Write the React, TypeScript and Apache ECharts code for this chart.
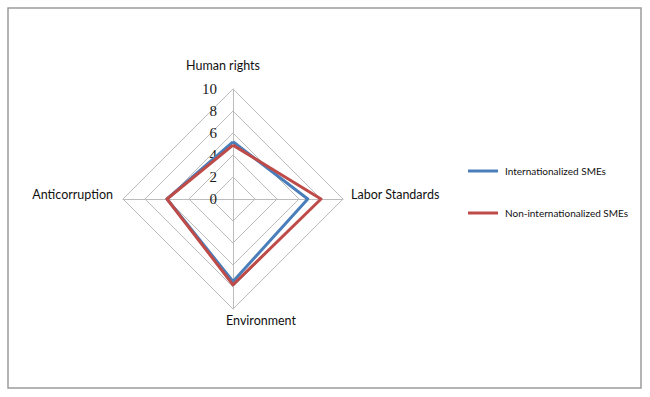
import React, { useEffect, useRef } from "react";
import * as echarts from "echarts";

// Indicators in ECharts order (counter-clockwise from top)
const indicatorNames = ["Human rights", "Anticorruption", "Environment", "Labor Standards"];
const indicatorMax = 10;
const internationalized = [5.2, 6.0, 7.5, 6.8];
const nonInternationalized = [4.9, 6.0, 7.8, 8.0];
const seriesNames = ["Internationalized SMEs", "Non-internationalized SMEs"];

const richKeys: Record<string, string> = {
  "Human rights": "hr",
  "Anticorruption": "ac",
  "Environment": "env",
  "Labor Standards": "ls",
};

export default function App() {
  const ref = useRef<HTMLDivElement>(null);
  useEffect(() => {
    if (!ref.current) return;
    const chart = echarts.init(ref.current, null, { renderer: "svg" });
    const font = "Lato, 'Liberation Sans', sans-serif";
    const nameStyle = { fontFamily: font, fontSize: 12.5, color: "#111111" };
    chart.setOption({
      animation: false,
      backgroundColor: "#ffffff",
      graphic: [
        {
          type: "rect",
          shape: { x: 8, y: 8, width: 633, height: 380 },
          style: { fill: "none", stroke: "#9c9c9c", lineWidth: 1.5 },
          silent: true,
        },
      ],
      legend: {
        orient: "vertical",
        left: 463,
        top: 161,
        itemGap: 32,
        itemWidth: 30,
        itemHeight: 3,
        icon: "rect",
        data: seriesNames,
        textStyle: { fontFamily: font, fontSize: 10, color: "#111111", padding: [0, 0, 0, 2] },
      },
      radar: {
        center: [233, 199],
        radius: 110,
        startAngle: 90,
        shape: "polygon",
        splitNumber: 5,
        nameGap: 5,
        indicator: indicatorNames.map((n, i) =>
          i === 0 ? { name: n, min: 0, max: indicatorMax } : { name: n, min: 0, max: indicatorMax, axisLabel: { show: false } }
        ),
        axisName: {
          ...nameStyle,
          formatter: (name: string) => `{${richKeys[name]}|${name}}`,
          rich: {
            hr: { ...nameStyle, padding: [0, 20, 12, 0] },
            ac: { ...nameStyle, padding: [0, 5, 10, 0] },
            env: { ...nameStyle, padding: [0, 0, 0, 56] },
            ls: { ...nameStyle, padding: [0, 0, 10, 3] },
          },
        },
        axisLine: { show: true, lineStyle: { color: "#bcbcbc", width: 1 } },
        splitLine: { show: true, lineStyle: { color: "#bcbcbc", width: 1 } },
        splitArea: { show: false },
        axisTick: { show: false },
        axisLabel: {
          show: true,
          margin: 16,
          fontFamily: "'Liberation Serif', serif",
          fontSize: 15,
          color: "#1a1a1a",
        },
      },
      series: [
        {
          type: "radar",
          symbol: "none",
          data: [
            {
              name: seriesNames[0],
              value: internationalized,
              lineStyle: { color: "#4a7ebb", width: 3 },
              itemStyle: { color: "#4a7ebb" },
            },
            {
              name: seriesNames[1],
              value: nonInternationalized,
              lineStyle: { color: "#be4b48", width: 3 },
              itemStyle: { color: "#be4b48" },
            },
          ],
        },
      ],
    });
    return () => chart.dispose();
  }, []);
  return <div ref={ref} style={{ position: "fixed", left: 0, top: 0, width: 650, height: 397 }} />;
}
